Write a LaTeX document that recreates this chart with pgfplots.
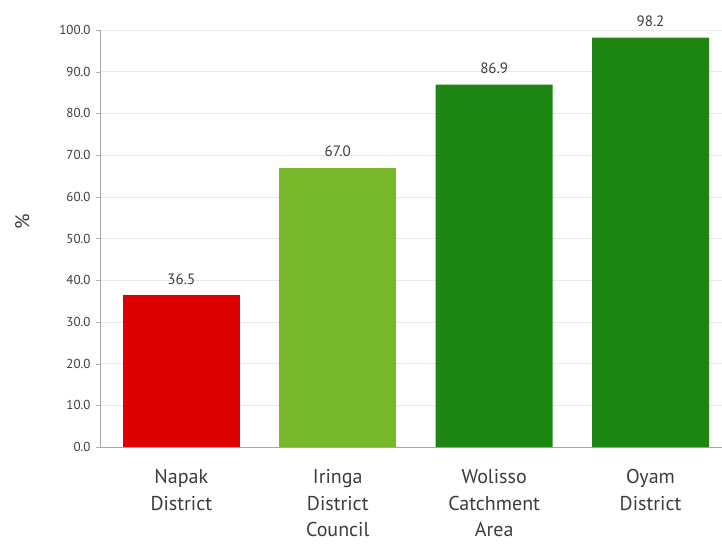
\documentclass[border=0pt]{standalone}
\usepackage{pgfplots}
\pgfplotsset{compat=1.18}
\usepackage{fontspec}
\setmainfont{PT Sans}
\definecolor{cred}{RGB}{220,0,0}
\definecolor{clight}{RGB}{118,184,42}
\definecolor{cdark}{RGB}{29,134,18}
\definecolor{txt}{RGB}{60,60,60}
\begin{document}
\begin{tikzpicture}[x=1pt,y=1pt]
\useasboundingbox (-100,-96) rectangle (622,447);
\begin{axis}[
  at={(0,0)}, anchor=south west,
  scale only axis, width=622pt, height=417pt,
  xmin=-0.52, xmax=3.457, ymin=0, ymax=100,
  xtick={0,1,2,3},
  xticklabels={{Napak\\District},{Iringa\\District\\Council},{Wolisso\\Catchment\\Area},{Oyam\\District}},
  xticklabel style={align=center, font=\fontsize{20}{26.5}\selectfont, text=txt, anchor=north, yshift=-15pt},
  major x tick style={draw=none},
  ytick={0,10,...,100},
  yticklabel style={font=\fontsize{13}{15}\selectfont, text=txt, xshift=-2pt, /pgf/number format/fixed, /pgf/number format/fixed zerofill, /pgf/number format/precision=1, /pgf/number format/assume math mode=true},
  tick align=outside, major tick length=4pt,
  y tick style={draw=gray!60},
  ymajorgrids, grid style={draw=gray!18},
  axis x line*=bottom, axis y line*=none,
  axis line style={draw=gray!70, line width=0.8pt},
  ylabel={\%}, ylabel style={font=\fontsize{20}{24}\selectfont, text=txt, at={(axis description cs:-0.125,0.54)}, anchor=center},
  nodes near coords,
  nodes near coords style={font=\fontsize{15}{18}\selectfont, text=txt, /pgf/number format/fixed, /pgf/number format/fixed zerofill, /pgf/number format/precision=1, /pgf/number format/assume math mode=true},
  every node near coord/.append style={yshift=7pt},
  clip=false,
]
\addplot[ybar, bar width=117pt, fill=cred, draw=none, bar shift=0pt] coordinates {(0,36.5)};
\addplot[ybar, bar width=117pt, fill=clight, draw=none, bar shift=0pt] coordinates {(1,67.0)};
\addplot[ybar, bar width=117pt, fill=cdark, draw=none, bar shift=0pt] coordinates {(2,86.9) (3,98.2)};
\end{axis}
\end{tikzpicture}
\end{document}
